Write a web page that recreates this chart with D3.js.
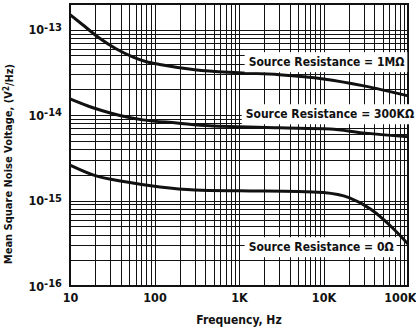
<!DOCTYPE html>
<html>
<head>
<meta charset="utf-8">
<script src="https://cdn.jsdelivr.net/npm/d3@7"></script>
<style>
  body { margin: 0; background: #fff; }
  text { font-family: "DejaVu Sans Condensed", "Liberation Sans Narrow", sans-serif; font-weight: bold; fill: #111; }
</style>
</head>
<body>
<div id="chart"></div>
<script>
// Frequency (Hz) and noise (V^2/Hz)
var freq1M   = [10, 14, 22, 35, 55, 80, 120, 300, 1000, 3000, 10000, 30000, 100000];
var noise1M  = [1.5e-13, 1.15e-13, 8.05e-14, 5.98e-14, 4.82e-14, 4.22e-14, 3.89e-14, 3.4e-14, 3.13e-14, 2.97e-14, 2.65e-14, 2.2e-14, 1.68e-14];

var freq300K  = [10, 18.7, 30, 47, 73, 184, 450, 1000, 3000, 12000, 29000, 100000];
var noise300K = [1.55e-14, 1.22e-14, 1.06e-14, 9.5e-15, 8.8e-15, 8.1e-15, 7.5e-15, 7.3e-15, 7.1e-15, 6.9e-15, 6.2e-15, 5.6e-15];

var freq0    = [10, 18.7, 47, 116, 300, 1000, 5000, 10000, 20000, 37000, 64000, 100000];
var noise0   = [2.6e-15, 2.0e-15, 1.65e-15, 1.44e-15, 1.33e-15, 1.3e-15, 1.28e-15, 1.24e-15, 1.08e-15, 7.8e-16, 4.9e-16, 3.1e-16];

var xTicks = [10, 100, 1000, 10000, 100000];
var xTickLabels = ["10", "100", "1K", "10K", "100K"];
var yTicks = [1e-16, 1e-15, 1e-14, 1e-13];
var yTickExps = ["-16", "-15", "-14", "-13"];

var curveLabels = ["Source Resistance = 1M\u03A9", "Source Resistance = 300K\u03A9", "Source Resistance = 0\u03A9"];
var labelFreqs = [1300, 1200, 1300];
var labelNoise = [4.19e-14, 1.03e-14, 2.86e-16];

var margin = {top: 4, right: 8, bottom: 46, left: 70},
    width = 416 - margin.left - margin.right,
    height = 332 - margin.top - margin.bottom;

var svg = d3.select("#chart")
    .append("svg")
    .attr("width", 416)
    .attr("height", 332)
    .append("g")
    .attr("transform", "translate(" + margin.left + "," + margin.top + ")");

var x = d3.scaleLog().domain([10, 100000]).range([0, width]);
var y = d3.scaleLog().domain([1e-16, 2e-13]).range([height, 0]);

// grid values: 1..9 in every decade
var xGrid = [];
[10, 100, 1000, 10000].forEach(function(d) {
    for (var i = 1; i < 10; i++) xGrid.push(d * i);
});
var yGrid = [];
[1e-16, 1e-15, 1e-14].forEach(function(d) {
    for (var i = 1; i < 10; i++) yGrid.push(d * i);
});
yGrid.push(1e-13);

svg.append("g")
    .attr("class", "grid")
    .attr("transform", "translate(0," + height + ")")
    .call(d3.axisBottom(x).tickValues(xGrid).tickSize(-height).tickFormat(""))
    .call(function(g) { g.select(".domain").remove(); });

svg.append("g")
    .attr("class", "grid")
    .call(d3.axisLeft(y).tickValues(yGrid).tickSize(-width).tickFormat(""))
    .call(function(g) { g.select(".domain").remove(); });

svg.selectAll(".grid line")
    .attr("stroke", "#111")
    .attr("stroke-width", 1)
    .attr("shape-rendering", "crispEdges");

// frame
svg.append("rect")
    .attr("width", width)
    .attr("height", height)
    .attr("fill", "none")
    .attr("stroke", "#111")
    .attr("stroke-width", 2);

// curves
var line = d3.line()
    .x(function(d) { return x(d[0]); })
    .y(function(d) { return y(d[1]); })
    .curve(d3.curveMonotoneX);

[[freq1M, noise1M], [freq300K, noise300K], [freq0, noise0]].forEach(function(s) {
    svg.append("path")
        .datum(d3.zip(s[0], s[1]))
        .attr("fill", "none")
        .attr("stroke", "#111")
        .attr("stroke-width", 3)
        .attr("d", line);
});

// curve labels on white boxes
curveLabels.forEach(function(t, i) {
    var g = svg.append("g");
    var txt = g.append("text")
        .attr("x", x(labelFreqs[i]))
        .attr("y", y(labelNoise[i]))
        .attr("dy", "0.35em")
        .style("font-size", "12px")
        .text(t);
    var bb = txt.node().getBBox();
    g.insert("rect", "text")
        .attr("x", bb.x - 4)
        .attr("y", bb.y - 3)
        .attr("width", bb.width + 7)
        .attr("height", bb.height + 6)
        .attr("fill", "#fff");
});

// x axis labels
var xAxis = svg.append("g")
    .attr("transform", "translate(0," + height + ")")
    .call(d3.axisBottom(x).tickValues(xTicks).tickSize(0).tickPadding(7)
        .tickFormat(function(d, i) { return xTickLabels[i]; }));
xAxis.select(".domain").remove();
xAxis.selectAll("text").style("font-size", "12.5px").style("font-family", null);
xAxis.selectAll(".tick").filter(function(d) { return d === 100000; })
    .select("text").attr("text-anchor", "end").attr("x", 8);

// y axis labels with superscript exponents
var yAxis = svg.append("g")
    .call(d3.axisLeft(y).tickValues(yTicks).tickSize(0).tickPadding(8).tickFormat(""));
yAxis.select(".domain").remove();
yAxis.selectAll(".tick text")
    .style("font-size", "12.5px")
    .style("font-family", null)
    .each(function(d, i) {
        var t = d3.select(this);
        t.append("tspan").text("10");
        t.append("tspan").attr("dy", "-0.3em").style("font-size", "11px").text(yTickExps[i]);
    });

svg.append("text")
    .attr("x", width / 2)
    .attr("y", height + 38)
    .attr("text-anchor", "middle")
    .style("font-size", "12px")
    .text("Frequency, Hz");

var yl = svg.append("text")
    .attr("transform", "rotate(-90)")
    .attr("x", -160)
    .attr("y", -58)
    .attr("text-anchor", "middle")
    .style("font-size", "11px");
yl.append("tspan").text("Mean Square Noise Voltage, (V");
yl.append("tspan").attr("dy", "-0.4em").style("font-size", "8px").text("2");
yl.append("tspan").attr("dy", "0.4em").text("/Hz)");
</script>
</body>
</html>
